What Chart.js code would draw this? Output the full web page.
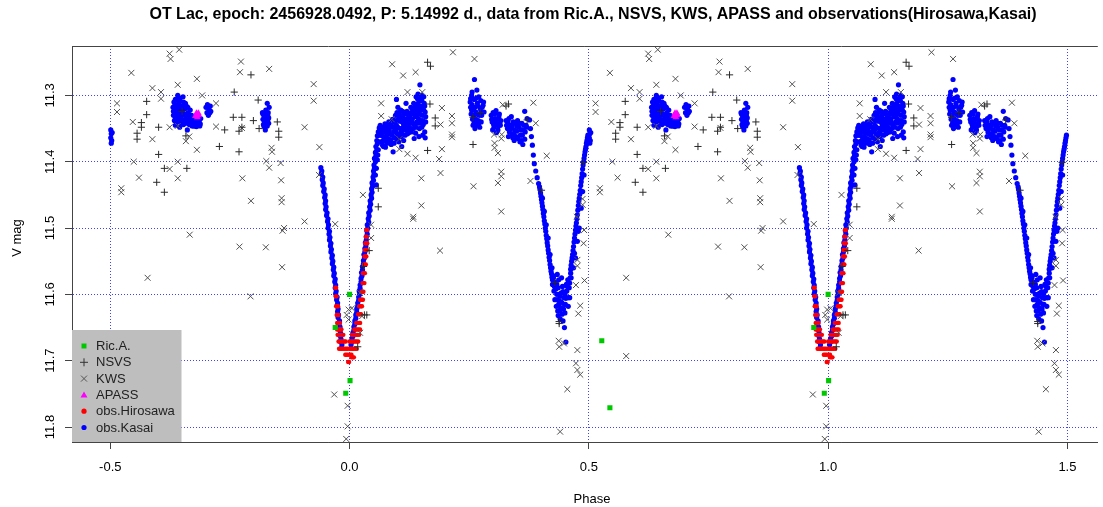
<!DOCTYPE html>
<html>
<head>
<meta charset="utf-8">
<title>OT Lac</title>
<script src="https://cdn.jsdelivr.net/npm/chart.js@4.4.0/dist/chart.umd.min.js"></script>
<style>
  html, body { margin: 0; padding: 0; background: #fff; }
  #wrap { width: 1103px; height: 507px; position: relative; }
</style>
</head>
<body>
<div id="wrap"><canvas id="grafico"></canvas></div>
<script>
// eixos
const xTicks = [-0.5, 0, 0.5, 1, 1.5];
const xTickLabels = ["-0.5", "0.0", "0.5", "1.0", "1.5"];
const yTicks = [11.3, 11.4, 11.5, 11.6, 11.7, 11.8];
const yTickLabels = ["11.3", "11.4", "11.5", "11.6", "11.7", "11.8"];

// dados base: [fase, V mag], fase em [-0.5, 0.5), cada ponto aparece tambem em fase+1
const ricA = [
  [0.000, 11.600], [-0.030, 11.650], [0.001, 11.730], [-0.008, 11.749],
  [-0.473, 11.670], [-0.456, 11.771]
];

const nsvs = [
  [-0.206, 11.269], [-0.241, 11.295], [-0.191, 11.307], [-0.424, 11.309], [-0.424, 11.329],
  [-0.435, 11.341], [-0.435, 11.348], [-0.444, 11.357], [-0.444, 11.366], [-0.399, 11.348],
  [-0.350, 11.324], [-0.342, 11.361], [-0.243, 11.333], [-0.225, 11.333], [-0.201, 11.338],
  [-0.225, 11.348], [-0.231, 11.354], [-0.261, 11.352], [-0.189, 11.350], [-0.151, 11.340],
  [-0.148, 11.354], [-0.148, 11.363], [-0.272, 11.377], [-0.231, 11.385], [-0.399, 11.389],
  [-0.387, 11.410], [-0.340, 11.410], [-0.403, 11.431], [-0.387, 11.446],
  [0.163, 11.250], [0.169, 11.256], [0.168, 11.313], [0.179, 11.334], [0.179, 11.346],
  [0.163, 11.383], [0.060, 11.440], [0.060, 11.468], [0.258, 11.374], [0.273, 11.326],
  [0.258, 11.333], [0.332, 11.313], [0.327, 11.316], [0.371, 11.337], [0.401, 11.443],
  [0.489, 11.401], [0.041, 11.534], [0.029, 11.558], [0.031, 11.631], [0.036, 11.631],
  [0.017, 11.679], [0.438, 11.641], [0.438, 11.644], [0.429, 11.582]
];

const kws = [
  [-0.376, 11.237], [-0.374, 11.245], [-0.356, 11.231], [-0.456, 11.266], [-0.359, 11.284],
  [-0.319, 11.275], [-0.412, 11.289], [-0.394, 11.295], [-0.394, 11.305], [-0.308, 11.300],
  [-0.486, 11.312], [-0.486, 11.325], [-0.279, 11.312], [-0.453, 11.340], [-0.376, 11.348],
  [-0.359, 11.346], [-0.412, 11.366], [-0.335, 11.362], [-0.342, 11.369], [-0.319, 11.382],
  [-0.279, 11.347], [-0.227, 11.249], [-0.229, 11.265], [-0.168, 11.260], [-0.075, 11.283],
  [-0.075, 11.308], [-0.094, 11.348], [-0.063, 11.378], [-0.225, 11.349], [-0.163, 11.379],
  [-0.162, 11.385], [-0.451, 11.400], [-0.359, 11.400], [-0.376, 11.411], [-0.440, 11.424],
  [-0.359, 11.425], [-0.477, 11.440], [-0.477, 11.446], [-0.224, 11.425], [-0.174, 11.399],
  [-0.168, 11.409], [-0.144, 11.402], [-0.143, 11.428], [-0.206, 11.459], [-0.142, 11.455],
  [-0.142, 11.461], [-0.094, 11.490], [-0.064, 11.420], [-0.030, 11.494], [-0.137, 11.500],
  [-0.334, 11.510], [-0.230, 11.528], [-0.175, 11.529], [-0.140, 11.504], [-0.141, 11.559],
  [-0.207, 11.603], [-0.422, 11.575], [-0.422, 11.693],
  [-0.002, 11.623], [0.005, 11.621], [-0.006, 11.631], [-0.002, 11.638], [0.022, 11.598],
  [0.026, 11.633], [0.022, 11.658], [0.045, 11.495], [0.045, 11.515], [-0.032, 11.751],
  [-0.004, 11.768], [-0.004, 11.799], [-0.007, 11.818],
  [0.216, 11.235], [0.261, 11.245], [0.089, 11.253], [0.112, 11.270], [0.138, 11.265],
  [0.121, 11.295], [0.152, 11.295], [0.066, 11.312], [0.066, 11.331], [0.088, 11.336],
  [0.193, 11.319], [0.214, 11.331], [0.214, 11.342], [0.190, 11.344], [0.214, 11.359],
  [0.214, 11.363], [0.104, 11.366], [0.104, 11.381], [0.121, 11.388], [0.138, 11.394],
  [0.193, 11.381], [0.187, 11.396], [0.150, 11.425], [0.190, 11.417], [0.028, 11.450],
  [0.150, 11.466], [0.133, 11.483], [0.133, 11.486], [0.320, 11.314], [0.302, 11.359],
  [0.318, 11.359], [0.303, 11.372], [0.303, 11.379], [0.317, 11.365], [0.310, 11.387],
  [0.317, 11.415], [0.317, 11.422], [0.310, 11.432], [0.259, 11.437], [0.317, 11.475],
  [0.384, 11.311], [0.389, 11.342], [0.412, 11.391], [0.378, 11.429], [0.490, 11.503],
  [0.487, 11.456], [0.487, 11.465], [0.475, 11.483], [0.189, 11.534],
  [0.489, 11.523], [0.476, 11.548], [0.476, 11.557], [0.473, 11.586], [0.491, 11.579],
  [0.482, 11.617], [0.478, 11.629], [0.437, 11.670], [0.448, 11.674], [0.438, 11.679],
  [0.476, 11.684], [0.473, 11.704], [0.476, 11.714], [0.482, 11.721], [0.455, 11.743],
  [0.440, 11.807]
];

const apass = [
  [-0.322, 11.331], [-0.318, 11.333], [-0.315, 11.330], [-0.320, 11.327], [-0.316, 11.327]
];

const hirosawa = [
  [0.035, 11.503], [0.037, 11.503],
  [0.034, 11.513], [0.036, 11.513],
  [0.033, 11.523], [0.035, 11.523], [0.037, 11.523],
  [0.032, 11.533], [0.034, 11.533], [0.036, 11.533],
  [0.031, 11.543], [0.033, 11.543], [0.035, 11.543],
  [0.030, 11.555], [0.032, 11.555], [0.034, 11.555],
  [0.028, 11.568], [0.030, 11.568], [0.032, 11.568],
  [0.027, 11.583], [0.029, 11.583], [0.031, 11.583],
  [0.025, 11.596], [0.027, 11.596], [0.029, 11.596],
  [0.022, 11.608], [0.024, 11.608], [0.026, 11.608], [0.028, 11.608],
  [0.020, 11.618], [0.022, 11.618], [0.024, 11.618], [0.026, 11.618],
  [0.018, 11.630], [0.020, 11.630], [0.022, 11.630], [0.024, 11.630],
  [-0.030, 11.590], [-0.028, 11.590],
  [-0.029, 11.603], [-0.027, 11.603],
  [-0.028, 11.618], [-0.026, 11.618], [-0.024, 11.618],
  [-0.027, 11.631], [-0.025, 11.631], [-0.023, 11.631],
  [-0.026, 11.643], [-0.023, 11.643], [-0.020, 11.643], [0.014, 11.643], [0.017, 11.643], [0.020, 11.643], [0.022, 11.643],
  [-0.026, 11.653], [-0.023, 11.653], [-0.020, 11.653], [-0.017, 11.653], [0.010, 11.653], [0.013, 11.653], [0.016, 11.653], [0.019, 11.653], [0.022, 11.653],
  [-0.025, 11.661], [-0.022, 11.661], [-0.019, 11.661], [-0.016, 11.661], [-0.013, 11.661], [0.005, 11.661], [0.008, 11.661], [0.011, 11.661], [0.014, 11.661], [0.017, 11.661], [0.020, 11.661],
  [-0.023, 11.671], [-0.020, 11.671], [-0.017, 11.671], [-0.014, 11.671], [-0.011, 11.671], [-0.008, 11.671], [0.000, 11.671], [0.003, 11.671], [0.006, 11.671], [0.009, 11.671], [0.012, 11.671], [0.015, 11.671], [0.018, 11.671],
  [-0.022, 11.682], [-0.019, 11.682], [-0.016, 11.682], [-0.013, 11.682], [-0.010, 11.682], [-0.007, 11.682], [-0.004, 11.682], [0.000, 11.682], [0.003, 11.682], [0.006, 11.682], [0.009, 11.682], [0.012, 11.682], [0.015, 11.682],
  [-0.009, 11.691], [-0.006, 11.691], [-0.003, 11.691], [0.001, 11.691], [0.004, 11.691],
  [0.004, 11.695], [0.007, 11.695], [0.009, 11.695],
  [-0.003, 11.702], [-0.001, 11.702]
];

const kasai = [
  // fim do ramo ascendente secundario (fase ~0.5)
  [-0.499, 11.352], [-0.498, 11.358], [-0.499, 11.364], [-0.497, 11.368], [-0.498, 11.372], [-0.496, 11.356],
  // maximo, fase ~0.63-0.69
  [-0.369, 11.318], [-0.368, 11.330], [-0.367, 11.310], [-0.366, 11.338], [-0.365, 11.324], [-0.363, 11.314],
  [-0.362, 11.332], [-0.361, 11.306], [-0.360, 11.340], [-0.358, 11.322], [-0.357, 11.312], [-0.356, 11.334],
  [-0.354, 11.308], [-0.353, 11.326], [-0.352, 11.342], [-0.350, 11.316], [-0.349, 11.330], [-0.347, 11.310],
  [-0.346, 11.338], [-0.344, 11.320], [-0.343, 11.312], [-0.341, 11.332], [-0.340, 11.342], [-0.338, 11.318],
  [-0.337, 11.326], [-0.335, 11.336], [-0.333, 11.322], [-0.332, 11.344], [-0.330, 11.330], [-0.328, 11.340],
  [-0.326, 11.346], [-0.324, 11.336], [-0.322, 11.342], [-0.320, 11.347], [-0.318, 11.340], [-0.316, 11.345],
  [-0.314, 11.338], [-0.312, 11.343], [-0.311, 11.335], [-0.364, 11.345], [-0.355, 11.348], [-0.339, 11.352],
  [-0.348, 11.302], [-0.359, 11.300],
  [-0.368, 11.324], [-0.366, 11.316], [-0.364, 11.334], [-0.362, 11.320], [-0.360, 11.328], [-0.358, 11.338],
  [-0.356, 11.316], [-0.354, 11.330], [-0.352, 11.318], [-0.351, 11.336], [-0.349, 11.322], [-0.347, 11.344],
  [-0.345, 11.328], [-0.343, 11.336], [-0.341, 11.316], [-0.339, 11.340], [-0.337, 11.334], [-0.335, 11.344],
  [-0.333, 11.330], [-0.331, 11.338], [-0.329, 11.346], [-0.327, 11.334], [-0.325, 11.342], [-0.323, 11.346],
  [-0.313, 11.346], [-0.364, 11.306], [-0.355, 11.304], [-0.345, 11.314],
  [-0.300, 11.318], [-0.298, 11.326], [-0.297, 11.314], [-0.295, 11.330], [-0.294, 11.320], [-0.292, 11.326],
  [-0.291, 11.316], [-0.290, 11.324],
  [-0.182, 11.326], [-0.181, 11.336], [-0.180, 11.344], [-0.179, 11.330], [-0.178, 11.340], [-0.177, 11.348],
  [-0.176, 11.334], [-0.175, 11.322], [-0.174, 11.342], [-0.173, 11.330], [-0.172, 11.346], [-0.171, 11.338],
  [-0.170, 11.326], [-0.168, 11.318], [-0.169, 11.342], [-0.176, 11.352], [-0.172, 11.312],
  [-0.181, 11.328], [-0.179, 11.346], [-0.177, 11.338], [-0.175, 11.344], [-0.173, 11.338], [-0.171, 11.330],
  [-0.169, 11.334], [-0.174, 11.326],
  // ramo descendente do minimo primario
  [-0.060, 11.409], [-0.059, 11.418], [-0.057, 11.427], [-0.056, 11.436], [-0.054, 11.445], [-0.052, 11.454],
  [-0.051, 11.463], [-0.050, 11.472], [-0.048, 11.481], [-0.046, 11.490], [-0.045, 11.500], [-0.043, 11.509],
  [-0.042, 11.518], [-0.040, 11.527], [-0.039, 11.536], [-0.037, 11.545], [-0.036, 11.554], [-0.034, 11.563],
  [-0.033, 11.572], [-0.031, 11.581], [-0.030, 11.590], [-0.029, 11.599], [-0.027, 11.608], [-0.026, 11.617],
  [-0.025, 11.626], [-0.024, 11.635], [-0.022, 11.644], [-0.021, 11.653], [-0.020, 11.662], [-0.019, 11.671],
  [-0.017, 11.681],
  [-0.058, 11.414], [-0.056, 11.423], [-0.055, 11.432], [-0.053, 11.441], [-0.051, 11.450], [-0.050, 11.459],
  [-0.049, 11.468], [-0.047, 11.477], [-0.045, 11.486], [-0.044, 11.495], [-0.042, 11.505], [-0.041, 11.514],
  [-0.039, 11.523], [-0.038, 11.532], [-0.036, 11.541], [-0.035, 11.550], [-0.033, 11.559], [-0.032, 11.568],
  [-0.030, 11.577], [-0.029, 11.586], [-0.028, 11.595], [-0.026, 11.604], [-0.025, 11.613], [-0.024, 11.622],
  [-0.023, 11.631], [-0.021, 11.640], [-0.020, 11.649], [-0.019, 11.658], [-0.018, 11.667], [-0.016, 11.676],
  // ramo ascendente do minimo primario
  [0.003, 11.676], [0.005, 11.667], [0.007, 11.658], [0.009, 11.649], [0.011, 11.640], [0.013, 11.631],
  [0.015, 11.622], [0.017, 11.613], [0.019, 11.604], [0.020, 11.595], [0.022, 11.586], [0.024, 11.576],
  [0.025, 11.567], [0.027, 11.558], [0.029, 11.549], [0.030, 11.540], [0.032, 11.531], [0.033, 11.522],
  [0.035, 11.513], [0.036, 11.504], [0.037, 11.495], [0.039, 11.486], [0.040, 11.477], [0.042, 11.468],
  [0.043, 11.459], [0.045, 11.450], [0.046, 11.441], [0.047, 11.432], [0.049, 11.423], [0.050, 11.414],
  [0.051, 11.405], [0.052, 11.395], [0.054, 11.386], [0.055, 11.377], [0.057, 11.368], [0.058, 11.361],
  [0.060, 11.355], [0.062, 11.349],
  [0.005, 11.672], [0.007, 11.663], [0.009, 11.654], [0.011, 11.645], [0.013, 11.636], [0.015, 11.627],
  [0.017, 11.618], [0.019, 11.609], [0.021, 11.600], [0.022, 11.591], [0.024, 11.581], [0.026, 11.572],
  [0.027, 11.563], [0.029, 11.554], [0.031, 11.545], [0.032, 11.536], [0.034, 11.527], [0.035, 11.518],
  [0.037, 11.509], [0.038, 11.500], [0.040, 11.491], [0.041, 11.482], [0.043, 11.473], [0.044, 11.464],
  [0.046, 11.455], [0.047, 11.446], [0.048, 11.437], [0.050, 11.428], [0.051, 11.419], [0.052, 11.410],
  [0.054, 11.400], [0.055, 11.391], [0.057, 11.382], [0.058, 11.373],
  [0.054, 11.420], [0.056, 11.410], [0.058, 11.397], [0.060, 11.382], [0.062, 11.370], [0.064, 11.360],
  [0.056, 11.435], [0.059, 11.390],
  // grupo apos o minimo primario, fase 0.06-0.16
  [0.063, 11.352], [0.066, 11.360], [0.068, 11.348], [0.070, 11.368], [0.072, 11.355], [0.074, 11.343],
  [0.076, 11.362], [0.078, 11.372], [0.080, 11.350], [0.082, 11.340], [0.084, 11.358], [0.086, 11.367],
  [0.088, 11.346], [0.090, 11.336], [0.092, 11.355], [0.094, 11.364], [0.069, 11.375], [0.075, 11.378],
  [0.081, 11.365], [0.087, 11.374],
  [0.096, 11.330], [0.098, 11.345], [0.100, 11.358], [0.102, 11.336], [0.104, 11.326], [0.106, 11.350],
  [0.108, 11.362], [0.110, 11.340], [0.112, 11.330], [0.114, 11.352], [0.116, 11.360], [0.118, 11.336],
  [0.120, 11.324], [0.122, 11.346], [0.124, 11.356], [0.126, 11.332], [0.128, 11.318], [0.130, 11.342],
  [0.099, 11.366], [0.105, 11.339], [0.111, 11.349], [0.117, 11.343], [0.123, 11.337], [0.129, 11.355],
  [0.101, 11.318], [0.107, 11.322], [0.103, 11.370], [0.113, 11.368],
  [0.132, 11.328], [0.134, 11.312], [0.136, 11.345], [0.138, 11.357], [0.140, 11.320], [0.142, 11.305],
  [0.144, 11.335], [0.146, 11.350], [0.148, 11.316], [0.150, 11.300], [0.152, 11.330], [0.154, 11.344],
  [0.156, 11.312], [0.158, 11.325], [0.159, 11.340], [0.157, 11.355], [0.153, 11.360], [0.145, 11.362],
  [0.137, 11.332], [0.141, 11.340], [0.149, 11.338], [0.155, 11.302], [0.147, 11.306], [0.139, 11.302],
  [0.143, 11.325], [0.151, 11.318], [0.133, 11.350], [0.135, 11.365],
  [0.147, 11.284], [0.143, 11.298], [0.098, 11.306], [0.118, 11.312], [0.158, 11.364], [0.091, 11.385],
  [0.109, 11.377], [0.071, 11.377],
  [0.064, 11.345], [0.067, 11.354], [0.071, 11.362], [0.073, 11.349], [0.077, 11.356], [0.079, 11.366],
  [0.083, 11.352], [0.085, 11.344], [0.089, 11.360], [0.091, 11.348], [0.093, 11.340], [0.095, 11.352],
  [0.097, 11.338], [0.099, 11.326], [0.101, 11.348], [0.103, 11.332], [0.105, 11.362], [0.107, 11.356],
  [0.109, 11.334], [0.111, 11.324], [0.113, 11.344], [0.115, 11.336], [0.117, 11.328], [0.119, 11.352],
  [0.121, 11.340], [0.123, 11.330], [0.125, 11.348], [0.127, 11.340], [0.129, 11.326], [0.131, 11.336],
  [0.131, 11.320], [0.133, 11.342], [0.135, 11.322], [0.137, 11.316], [0.139, 11.348], [0.141, 11.330],
  [0.143, 11.312], [0.145, 11.342], [0.147, 11.328], [0.149, 11.322], [0.151, 11.308], [0.153, 11.338],
  [0.155, 11.322], [0.157, 11.316], [0.159, 11.332], [0.139, 11.326], [0.145, 11.318], [0.151, 11.348],
  [0.127, 11.350], [0.121, 11.358], [0.115, 11.346], [0.109, 11.358], [0.097, 11.352], [0.093, 11.372],
  [0.085, 11.372], [0.079, 11.344], [0.073, 11.368], [0.067, 11.370],
  // grupos na fase 0.25-0.37
  [0.252, 11.310], [0.255, 11.300], [0.258, 11.318], [0.261, 11.306], [0.264, 11.325], [0.267, 11.312],
  [0.270, 11.302], [0.273, 11.320], [0.276, 11.330], [0.279, 11.315], [0.281, 11.325], [0.254, 11.328],
  [0.257, 11.336], [0.260, 11.342], [0.263, 11.335], [0.266, 11.345], [0.269, 11.338], [0.272, 11.348],
  [0.275, 11.340], [0.262, 11.350], [0.256, 11.295], [0.261, 11.276], [0.266, 11.292], [0.259, 11.322],
  [0.268, 11.328], [0.253, 11.318],
  [0.253, 11.305], [0.256, 11.314], [0.259, 11.330], [0.262, 11.318], [0.265, 11.304], [0.268, 11.316],
  [0.271, 11.330], [0.274, 11.308], [0.277, 11.318], [0.280, 11.310], [0.258, 11.345], [0.264, 11.340],
  [0.270, 11.342], [0.255, 11.322], [0.275, 11.325],
  [0.296, 11.330], [0.298, 11.340], [0.300, 11.326], [0.302, 11.348], [0.304, 11.335], [0.306, 11.323],
  [0.308, 11.344], [0.310, 11.352], [0.312, 11.332], [0.314, 11.342], [0.316, 11.338], [0.299, 11.352],
  [0.307, 11.356],
  [0.297, 11.336], [0.301, 11.344], [0.303, 11.328], [0.305, 11.340], [0.309, 11.336], [0.311, 11.346],
  [0.313, 11.328], [0.315, 11.345],
  [0.327, 11.338], [0.330, 11.350], [0.333, 11.335], [0.336, 11.345], [0.339, 11.358], [0.342, 11.340],
  [0.345, 11.352], [0.348, 11.362], [0.351, 11.338], [0.354, 11.348], [0.357, 11.360], [0.360, 11.342],
  [0.363, 11.352], [0.366, 11.366], [0.369, 11.345], [0.371, 11.335], [0.332, 11.362], [0.344, 11.368],
  [0.356, 11.370], [0.362, 11.374], [0.366, 11.324], [0.338, 11.332],
  [0.328, 11.345], [0.331, 11.340], [0.334, 11.355], [0.337, 11.350], [0.340, 11.346], [0.343, 11.358],
  [0.346, 11.342], [0.349, 11.354], [0.352, 11.365], [0.355, 11.342], [0.358, 11.352], [0.361, 11.360],
  [0.364, 11.345], [0.367, 11.355], [0.370, 11.348], [0.350, 11.346], [0.359, 11.368], [0.341, 11.364],
  // ramo descendente do minimo secundario
  [0.376, 11.337], [0.378, 11.350], [0.380, 11.362], [0.382, 11.375], [0.384, 11.390], [0.386, 11.403],
  [0.389, 11.414], [0.392, 11.424], [0.395, 11.433], [0.398, 11.442], [0.400, 11.452], [0.402, 11.462],
  [0.404, 11.472], [0.406, 11.483], [0.408, 11.494], [0.410, 11.505], [0.412, 11.516], [0.414, 11.527],
  [0.416, 11.538], [0.418, 11.549], [0.420, 11.560], [0.422, 11.569], [0.424, 11.578],
  [0.397, 11.438], [0.399, 11.447], [0.401, 11.457], [0.403, 11.467], [0.405, 11.478], [0.407, 11.489],
  [0.409, 11.500], [0.411, 11.511], [0.413, 11.522], [0.415, 11.533], [0.417, 11.544], [0.419, 11.555],
  [0.421, 11.565], [0.423, 11.574],
  [0.403, 11.455], [0.407, 11.475], [0.411, 11.495], [0.415, 11.515], [0.419, 11.540], [0.423, 11.560],
  [0.426, 11.572],
  // minimo secundario
  [0.424, 11.585], [0.427, 11.595], [0.430, 11.582], [0.433, 11.600], [0.436, 11.590], [0.439, 11.610],
  [0.442, 11.598], [0.445, 11.588], [0.448, 11.605], [0.451, 11.615], [0.454, 11.595], [0.457, 11.605],
  [0.429, 11.608], [0.432, 11.618], [0.435, 11.625], [0.438, 11.600], [0.441, 11.620], [0.444, 11.630],
  [0.447, 11.622], [0.450, 11.600], [0.453, 11.585], [0.456, 11.578], [0.437, 11.578], [0.443, 11.575],
  [0.440, 11.637], [0.446, 11.640], [0.449, 11.650], [0.452, 11.672], [0.426, 11.575], [0.434, 11.570],
  [0.428, 11.588], [0.431, 11.592], [0.434, 11.608], [0.437, 11.615], [0.440, 11.603], [0.443, 11.612],
  [0.446, 11.596], [0.449, 11.615], [0.452, 11.606], [0.455, 11.588], [0.433, 11.585], [0.445, 11.622],
  [0.439, 11.625], [0.450, 11.628], [0.436, 11.632],
  // ramo ascendente do minimo secundario
  [0.459, 11.590], [0.461, 11.575], [0.462, 11.562], [0.464, 11.550], [0.466, 11.540], [0.468, 11.528],
  [0.470, 11.515], [0.472, 11.503], [0.474, 11.492], [0.476, 11.480], [0.478, 11.466], [0.480, 11.455],
  [0.482, 11.443], [0.484, 11.430], [0.486, 11.418], [0.488, 11.405], [0.490, 11.395], [0.492, 11.385],
  [0.494, 11.377], [0.496, 11.368], [0.498, 11.360],
  [0.460, 11.583], [0.462, 11.568], [0.463, 11.556], [0.465, 11.545], [0.467, 11.534], [0.469, 11.521],
  [0.471, 11.509], [0.473, 11.497], [0.475, 11.486], [0.477, 11.473], [0.479, 11.460], [0.481, 11.449],
  [0.483, 11.436], [0.485, 11.424], [0.487, 11.411], [0.489, 11.400], [0.491, 11.390], [0.493, 11.381],
  [0.495, 11.372], [0.497, 11.364],
  [0.468, 11.560], [0.472, 11.545], [0.476, 11.520], [0.480, 11.500], [0.484, 11.470], [0.487, 11.445],
  [0.463, 11.575], [0.470, 11.538], [0.478, 11.505], [0.490, 11.420], [0.460, 11.605], [0.457, 11.618]
];

// cada fase aparece duas vezes: em p e em p+1
function dobrar(base) {
  const pts = [];
  base.forEach(([p, m]) => {
    pts.push({ x: p, y: m });
    pts.push({ x: p + 1, y: m });
  });
  return pts;
}

const fonte = '"Liberation Sans", Arial, sans-serif';

const legendaItens = [
  { nome: "Ric.A.", tipo: "quadrado", cor: "#00c800" },
  { nome: "NSVS", tipo: "mais", cor: "#333" },
  { nome: "KWS", tipo: "xis", cor: "#555" },
  { nome: "APASS", tipo: "triangulo", cor: "#ff00ff" },
  { nome: "obs.Hirosawa", tipo: "bola", cor: "#ff0000" },
  { nome: "obs.Kasai", tipo: "bola", cor: "#0000ff" }
];

function marcador(ctx, tipo, cor, x, y) {
  ctx.save();
  ctx.fillStyle = cor;
  ctx.strokeStyle = cor;
  ctx.lineWidth = 1;
  ctx.beginPath();
  if (tipo === "quadrado") {
    ctx.fillRect(x - 2.5, y - 2.5, 5, 5);
  } else if (tipo === "mais") {
    ctx.moveTo(x - 4, y); ctx.lineTo(x + 4, y);
    ctx.moveTo(x, y - 4); ctx.lineTo(x, y + 4);
    ctx.stroke();
  } else if (tipo === "xis") {
    ctx.moveTo(x - 3, y - 3); ctx.lineTo(x + 3, y + 3);
    ctx.moveTo(x - 3, y + 3); ctx.lineTo(x + 3, y - 3);
    ctx.stroke();
  } else if (tipo === "triangulo") {
    ctx.moveTo(x, y - 3.5); ctx.lineTo(x + 3.5, y + 2.5); ctx.lineTo(x - 3.5, y + 2.5);
    ctx.closePath();
    ctx.fill();
  } else {
    ctx.arc(x, y, 2.6, 0, Math.PI * 2);
    ctx.fill();
  }
  ctx.restore();
}

// textos, moldura e legenda
const enfeites = {
  id: "enfeites",
  afterDatasetsDraw(chart) {
    const ctx = chart.ctx;
    const area = chart.chartArea;
    const sx = chart.scales.x;
    const sy = chart.scales.y;

    // legenda
    ctx.save();
    ctx.fillStyle = "#bebebe";
    ctx.fillRect(72, 330, 109.5, area.bottom - 330);
    ctx.font = "13px " + fonte;
    ctx.textBaseline = "middle";
    ctx.textAlign = "left";
    legendaItens.forEach((it, i) => {
      const y = 346 + i * 16.3;
      marcador(ctx, it.tipo, it.cor, 84, y);
      ctx.fillStyle = "#222";
      ctx.fillText(it.nome, 96, y + 0.5);
    });
    ctx.restore();

    // moldura
    ctx.save();
    ctx.strokeStyle = "#444";
    ctx.lineWidth = 1;
    ctx.beginPath();
    ctx.moveTo(area.left, area.top + 0.5);
    ctx.lineTo(area.right, area.top + 0.5);
    ctx.moveTo(area.left, area.bottom + 0.5);
    ctx.lineTo(area.right, area.bottom + 0.5);
    ctx.stroke();
    ctx.restore();

    // rotulos dos eixos
    ctx.save();
    ctx.fillStyle = "#000";
    ctx.font = "13px " + fonte;
    ctx.textAlign = "center";
    ctx.textBaseline = "middle";
    xTicks.forEach((v, i) => {
      ctx.fillText(xTickLabels[i], sx.getPixelForValue(v), 467);
    });
    yTicks.forEach((v, i) => {
      ctx.save();
      ctx.translate(50, sy.getPixelForValue(v));
      ctx.rotate(-Math.PI / 2);
      ctx.fillText(yTickLabels[i], 0, 0);
      ctx.restore();
    });
    ctx.fillText("Phase", 592, 499);
    ctx.save();
    ctx.translate(17, 238);
    ctx.rotate(-Math.PI / 2);
    ctx.fillText("V mag", 0, 0);
    ctx.restore();
    ctx.font = "bold 16px " + fonte;
    ctx.fillText("OT Lac, epoch: 2456928.0492, P: 5.14992 d., data from Ric.A., NSVS, KWS, APASS and observations(Hirosawa,Kasai)", 593, 15);
    ctx.restore();
  }
};

const gradeCor = "rgba(30,30,255,0.85)";

new Chart(document.getElementById("grafico"), {
  type: "scatter",
  data: {
    datasets: [
      { label: "Ric.A.", data: dobrar(ricA), pointStyle: "rect", pointRadius: 3.6,
        backgroundColor: "#00c800", borderColor: "#00c800", pointBorderWidth: 0 },
      { label: "NSVS", data: dobrar(nsvs), pointStyle: "cross", pointRadius: 3.6,
        borderColor: "#2a2a2a", backgroundColor: "#2a2a2a", pointBorderWidth: 1 },
      { label: "KWS", data: dobrar(kws), pointStyle: "crossRot", pointRadius: 4.2,
        borderColor: "#505050", backgroundColor: "#505050", pointBorderWidth: 1 },
      { label: "APASS", data: dobrar(apass), pointStyle: "triangle", pointRadius: 4,
        backgroundColor: "#ff00ff", borderColor: "#ff00ff", pointBorderWidth: 0 },
      { label: "obs.Hirosawa", data: dobrar(hirosawa), pointStyle: "circle", pointRadius: 2.2,
        backgroundColor: "#ff0000", borderColor: "#ff0000", pointBorderWidth: 0 },
      { label: "obs.Kasai", data: dobrar(kasai), pointStyle: "circle", pointRadius: 2.6,
        backgroundColor: "#0000ff", borderColor: "#0000ff", pointBorderWidth: 0 }
    ]
  },
  options: {
    responsive: true,
    maintainAspectRatio: false,
    animation: false,
    events: [],
    layout: { padding: { top: 46, left: 0, right: 0, bottom: 0 } },
    plugins: { legend: { display: false }, tooltip: { enabled: false } },
    scales: {
      x: {
        type: "linear",
        min: -0.580,
        max: 1.5635,
        afterBuildTicks: s => { s.ticks = xTicks.map(v => ({ value: v })); },
        afterFit: s => { s.height = 65; },
        ticks: { display: false },
        grid: { color: gradeCor, lineWidth: 1, tickLength: 7, tickColor: "#444" },
        border: { display: true, color: "#444", width: 1, dash: [1, 2] }
      },
      y: {
        type: "linear",
        reverse: true,
        min: 11.2255,
        max: 11.8226,
        afterBuildTicks: s => { s.ticks = yTicks.map(v => ({ value: v })); },
        afterFit: s => { s.width = 72; },
        ticks: { display: false },
        grid: { color: gradeCor, lineWidth: 1, tickLength: 7, tickColor: "#444" },
        border: { display: true, color: "#444", width: 1, dash: [1, 2] }
      }
    }
  },
  plugins: [enfeites]
});
</script>
</body>
</html>
